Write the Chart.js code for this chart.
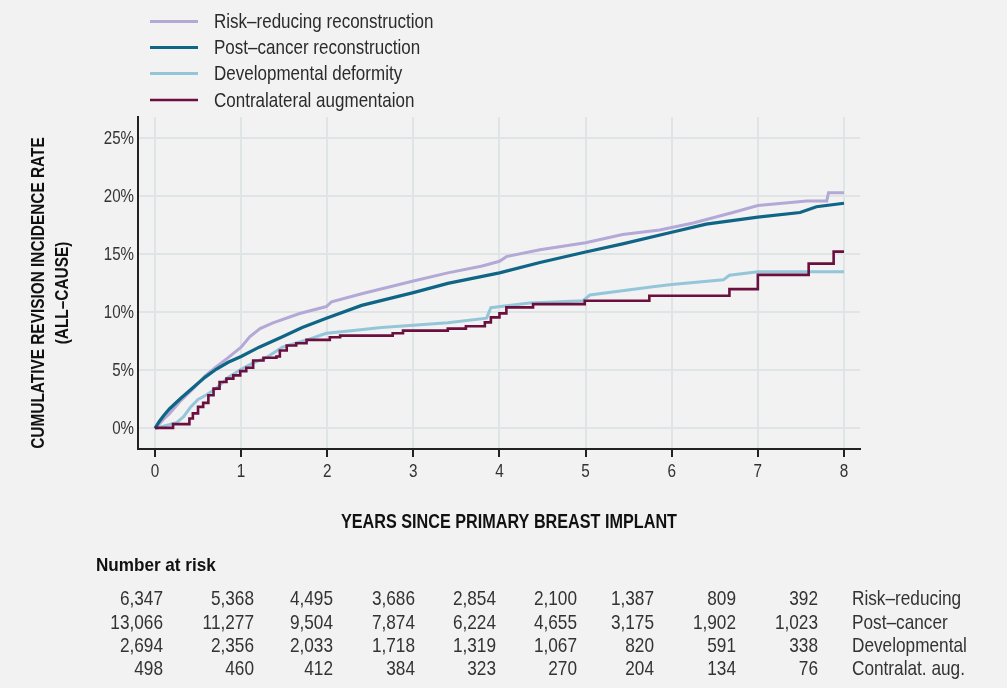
<!DOCTYPE html>
<html>
<head>
<meta charset="utf-8">
<script src="https://cdn.jsdelivr.net/npm/chart.js@4.4.1/dist/chart.umd.min.js"></script>
<style>
  body { margin: 0; background: #f2f2f2; }
  canvas { display: block; }
</style>
</head>
<body>
<canvas id="revisionChart" width="1007" height="688"></canvas>
<script>
// the original uses a condensed Helvetica; squeeze Liberation Sans to get close
var FONT = "'Liberation Sans', Arial, sans-serif";

// legend names + colours
var seriesNames = ['Risk\u2013reducing reconstruction', 'Post\u2013cancer reconstruction', 'Developmental deformity', 'Contralateral augmentaion'];
var seriesColors = ['#b3a8d6', '#0f6585', '#94c6da', '#6a0f3e'];

// cumulative incidence (%)
var riskYears = [0, 0.1, 0.17, 0.3, 0.44, 0.58, 0.71, 0.85, 1.0, 1.1, 1.22, 1.37, 1.68, 1.99, 2.05, 2.4, 3.0, 3.4, 3.8, 4.0, 4.08, 4.47, 5.0, 5.43, 5.86, 6.25, 6.71, 7.0, 7.57, 7.8, 7.82, 8.0];
var riskPct = [0, 0.8, 1.3, 2.4, 3.4, 4.5, 5.3, 6.1, 7.0, 7.9, 8.6, 9.1, 9.9, 10.5, 10.9, 11.6, 12.7, 13.4, 14.0, 14.4, 14.8, 15.4, 16.0, 16.7, 17.1, 17.7, 18.6, 19.2, 19.6, 19.6, 20.3, 20.3];

var postYears = [0, 0.05, 0.1, 0.17, 0.3, 0.44, 0.58, 0.71, 0.85, 1.0, 1.21, 1.48, 1.71, 1.99, 2.4, 3.0, 3.4, 4.0, 4.47, 5.0, 5.43, 6.0, 6.4, 7.0, 7.49, 7.68, 8.0];
var postPct = [0, 0.6, 1.1, 1.7, 2.6, 3.5, 4.4, 5.1, 5.7, 6.2, 7.0, 7.9, 8.7, 9.5, 10.6, 11.7, 12.5, 13.4, 14.3, 15.2, 15.9, 16.9, 17.6, 18.2, 18.6, 19.1, 19.4];

var devYears = [0, 0.25, 0.33, 0.41, 0.5, 0.6, 0.72, 0.85, 1.0, 1.13, 1.29, 1.48, 1.79, 1.99, 2.25, 2.63, 3.0, 3.4, 3.85, 3.9, 4.35, 4.97, 5.05, 5.47, 5.78, 6.0, 6.6, 6.67, 7.0, 8.0];
var devPct = [0, 0.5, 1.0, 1.8, 2.5, 2.9, 3.5, 4.4, 5.1, 5.6, 6.1, 7.0, 7.7, 8.2, 8.4, 8.7, 8.9, 9.1, 9.5, 10.4, 10.8, 11.0, 11.5, 11.9, 12.2, 12.4, 12.8, 13.2, 13.5, 13.5];

var contraYears = [0, 0.21, 0.40, 0.44, 0.50, 0.56, 0.62, 0.68, 0.75, 0.83, 0.91, 0.99, 1.06, 1.14, 1.26, 1.41, 1.45, 1.53, 1.64, 1.76, 2.03, 2.15, 2.76, 2.88, 3.4, 3.61, 3.83, 3.9, 4.0, 4.08, 4.39, 4.99, 5.74, 6.67, 7.0, 7.59, 7.88, 8.0];
var contraPct = [0.05, 0.37, 0.86, 1.3, 1.86, 2.2, 2.86, 3.43, 4.0, 4.29, 4.57, 4.94, 5.23, 5.86, 6.09, 6.2, 6.71, 7.14, 7.34, 7.63, 7.86, 8.0, 8.2, 8.43, 8.6, 8.8, 9.14, 9.57, 9.91, 10.43, 10.71, 11.0, 11.43, 12.0, 13.23, 14.2, 15.23, 15.23];

// number at risk table
var tableNames = ['Risk\u2013reducing', 'Post\u2013cancer', 'Developmental', 'Contralat. aug.'];
var atRiskRisk = ['6,347', '5,368', '4,495', '3,686', '2,854', '2,100', '1,387', '809', '392'];
var atRiskPost = ['13,066', '11,277', '9,504', '7,874', '6,224', '4,655', '3,175', '1,902', '1,023'];
var atRiskDev = ['2,694', '2,356', '2,033', '1,718', '1,319', '1,067', '820', '591', '338'];
var atRiskContra = ['498', '460', '412', '384', '323', '270', '204', '134', '76'];

function toPoints(xs, ys) {
    return xs.map(function (x, i) { return { x: x, y: ys[i] }; });
}

// narrow text: draw with a horizontal squeeze
function squeezeText(ctx, txt, x, y, font, sx, align) {
    ctx.save();
    ctx.font = font;
    ctx.textAlign = align;
    ctx.textBaseline = 'middle';
    ctx.translate(x, y);
    ctx.scale(sx, 1);
    ctx.fillText(txt, 0, 0);
    ctx.restore();
}

// tick labels, legend, axis titles and risk table
var extrasPlugin = {
    id: 'extras',
    afterDraw: function (chart) {
        var ctx = chart.ctx;
        var xs = chart.scales.x, ys = chart.scales.y;
        ctx.save();

        // tick labels
        ctx.fillStyle = '#333';
        xs.ticks.forEach(function (t) {
            squeezeText(ctx, String(t.value), xs.getPixelForValue(t.value), 472, '18px ' + FONT, 0.85, 'center');
        });
        ys.ticks.forEach(function (t) {
            squeezeText(ctx, t.value + '%', 134, ys.getPixelForValue(t.value) + 1, '18px ' + FONT, 0.84, 'right');
        });

        // legend
        var legendRows = [21.5, 47.5, 73.5, 100];
        seriesNames.forEach(function (name, i) {
            ctx.strokeStyle = seriesColors[i];
            ctx.lineWidth = i === 3 ? 2.5 : 3;
            ctx.beginPath();
            ctx.moveTo(150, legendRows[i]);
            ctx.lineTo(198, legendRows[i]);
            ctx.stroke();
            ctx.fillStyle = '#2b2b2b';
            squeezeText(ctx, name, 214, legendRows[i] + 1, '21px ' + FONT, 0.81, 'left');
        });

        // y title
        ctx.fillStyle = '#111';
        ctx.save();
        ctx.translate(39, 293);
        ctx.rotate(-Math.PI / 2);
        squeezeText(ctx, 'CUMULATIVE REVISION INCIDENCE RATE', 0, 0, 'bold 19px ' + FONT, 0.81, 'center');
        squeezeText(ctx, '(ALL\u2013CAUSE)', 0, 24, 'bold 19px ' + FONT, 0.81, 'center');
        ctx.restore();

        // x title
        squeezeText(ctx, 'YEARS SINCE PRIMARY BREAST IMPLANT', 509, 522, 'bold 20px ' + FONT, 0.81, 'center');

        // number at risk
        squeezeText(ctx, 'Number at risk', 96, 566, 'bold 19px ' + FONT, 0.9, 'left');

        var colRight = [163, 254, 333, 415, 496, 577, 654, 736, 818];
        var rowY = [599, 623, 646, 669];
        var rows = [atRiskRisk, atRiskPost, atRiskDev, atRiskContra];
        ctx.fillStyle = '#333';
        rows.forEach(function (row, r) {
            row.forEach(function (txt, c) {
                squeezeText(ctx, txt, colRight[c], rowY[r], '21px ' + FONT, 0.82, 'right');
            });
            squeezeText(ctx, tableNames[r], 852, rowY[r], '21px ' + FONT, 0.82, 'left');
        });

        ctx.restore();
    }
};

var ctx = document.getElementById('revisionChart').getContext('2d');
var revisionChart = new Chart(ctx, {
    type: 'line',
    data: {
        datasets: [{
            label: seriesNames[0],
            data: toPoints(riskYears, riskPct),
            borderColor: seriesColors[0],
            borderWidth: 3,
            order: 3
        }, {
            label: seriesNames[1],
            data: toPoints(postYears, postPct),
            borderColor: seriesColors[1],
            borderWidth: 3.2,
            order: 1
        }, {
            label: seriesNames[2],
            data: toPoints(devYears, devPct),
            borderColor: seriesColors[2],
            borderWidth: 3,
            order: 2
        }, {
            label: seriesNames[3],
            data: toPoints(contraYears, contraPct),
            borderColor: seriesColors[3],
            borderWidth: 2.6,
            stepped: true,
            order: 0
        }]
    },
    options: {
        responsive: false,
        animation: false,
        events: [],
        elements: {
            point: { radius: 0 },
            line: { tension: 0, fill: false, borderJoinStyle: 'miter' }
        },
        layout: { padding: { top: 117, right: 147, left: 0, bottom: 0 } },
        plugins: {
            legend: { display: false },
            tooltip: { enabled: false }
        },
        scales: {
            x: {
                type: 'linear',
                min: -0.197,
                max: 8.186,
                afterFit: function (scale) { scale.height = 239; },
                ticks: {
                    stepSize: 1,
                    includeBounds: false,
                    display: false
                },
                grid: {
                    color: '#dfe4e6',
                    lineWidth: 2,
                    drawTicks: true,
                    tickLength: 8,
                    tickColor: '#222',
                    tickWidth: 2
                },
                border: { color: '#222', width: 2 }
            },
            y: {
                min: -1.77,
                max: 26.83,
                afterFit: function (scale) { scale.width = 138; },
                ticks: {
                    stepSize: 5,
                    includeBounds: false,
                    display: false
                },
                grid: {
                    color: '#dfe4e6',
                    lineWidth: 2,
                    drawTicks: false
                },
                border: { color: '#222', width: 2 }
            }
        }
    },
    plugins: [extrasPlugin]
});
</script>
</body>
</html>
